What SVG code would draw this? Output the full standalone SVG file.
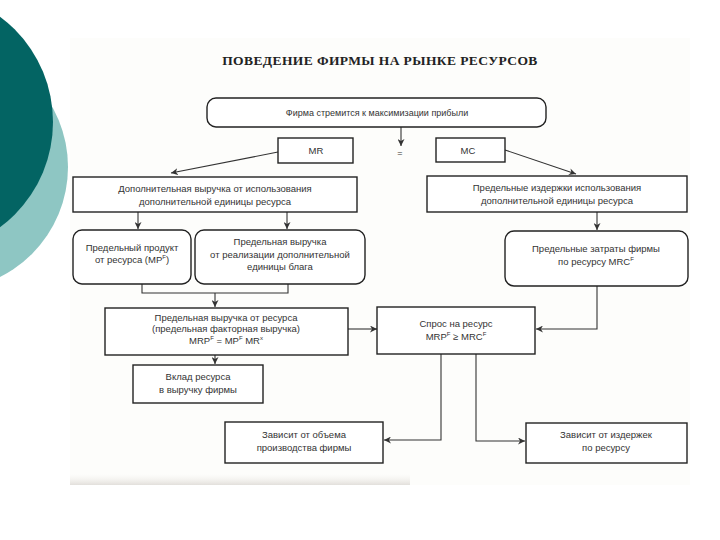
<svg xmlns="http://www.w3.org/2000/svg" width="720" height="540" viewBox="0 0 720 540">
<defs>
<style>
.bx{fill:#fff;stroke:#222;stroke-width:1.4}
.t{font-family:"Liberation Sans",Arial,sans-serif;font-size:9.5px;fill:#333;text-anchor:middle}
.ln{fill:none;stroke:#333;stroke-width:1.1}
.ttl{font-family:"Liberation Serif","Times New Roman",serif;font-size:13.5px;font-weight:bold;fill:#222;text-anchor:middle;letter-spacing:0.4px}
</style>
<marker id="ar" viewBox="0 0 10 10" refX="10" refY="5" markerWidth="7" markerHeight="7" markerUnits="userSpaceOnUse" orient="auto">
<path d="M0,0 L10,5 L0,10 L3,5 Z" fill="#333"/>
</marker>
<linearGradient id="shade" x1="0" y1="0" x2="0" y2="1">
<stop offset="0" stop-color="#f4f2ee" stop-opacity="0"/>
<stop offset="1" stop-color="#e2dfdb"/>
</linearGradient>
</defs>
<rect width="720" height="540" fill="#fff"/>
<g id="decor">
<circle cx="-55" cy="167" r="123" fill="#8ec6c3"/>
<circle cx="-78" cy="122" r="131" fill="#036463"/>
<rect x="70" y="38" width="620" height="447" fill="#fdfdfb"/>
<rect x="70" y="474" width="340" height="11" fill="url(#shade)"/>
</g>
<text class="ttl" x="380" y="65">ПОВЕДЕНИЕ ФИРМЫ НА РЫНКЕ РЕСУРСОВ</text>
<g id="connectors">
<path class="ln" d="M401,127 V146" marker-end="url(#ar)"/>
<path class="ln" d="M278,152 L171,173" marker-end="url(#ar)"/>
<path class="ln" d="M505,150 L576,174" marker-end="url(#ar)"/>
<path class="ln" d="M138,212 V229" marker-end="url(#ar)"/>
<path class="ln" d="M287,212 V229" marker-end="url(#ar)"/>
<path class="ln" d="M597,212 V230" marker-end="url(#ar)"/>
<path class="ln" d="M142,284 V293 H288 V284"/>
<path class="ln" d="M215,293 V307" marker-end="url(#ar)"/>
<path class="ln" d="M215,355 V364" marker-end="url(#ar)"/>
<path class="ln" d="M348,329 H377" marker-end="url(#ar)"/>
<path class="ln" d="M597,286 V329 H536" marker-end="url(#ar)"/>
<path class="ln" d="M441,354 V440 H384" marker-end="url(#ar)"/>
<path class="ln" d="M476,354 V441 H525" marker-end="url(#ar)"/>
</g>
<text class="t" x="400" y="156" style="font-size:9px">=</text>
<g id="n-goal">
<rect class="bx" x="207" y="98" width="339" height="29" rx="9"/>
<text class="t" x="377" y="116" style="font-size:9px">Фирма стремится к максимизации прибыли</text>
</g>
<g id="n-mr">
<rect class="bx" x="278" y="138" width="75" height="25"/>
<text class="t" x="316" y="154">MR</text>
</g>
<g id="n-mc">
<rect class="bx" x="436" y="138" width="69" height="24"/>
<text class="t" x="468" y="154">MC</text>
</g>
<g id="n-addrev">
<rect class="bx" x="73" y="177" width="284" height="35"/>
<text class="t" x="215" y="192">Дополнительная выручка от использования</text>
<text class="t" x="215" y="205">дополнительной единицы ресурса</text>
</g>
<g id="n-margcost">
<rect class="bx" x="427" y="176" width="260" height="36"/>
<text class="t" x="557" y="191">Предельные издержки использования</text>
<text class="t" x="557" y="204">дополнительной единицы ресурса</text>
</g>
<g id="n-mp">
<rect class="bx" x="73" y="230" width="118" height="54" rx="9"/>
<text class="t" x="132" y="251">Предельный продукт</text>
<text class="t" x="132" y="263">от ресурса (MP<tspan font-size="6" dy="-4">F</tspan><tspan dy="4">)</tspan></text>
</g>
<g id="n-mrgood">
<rect class="bx" x="195" y="230" width="170" height="54" rx="9"/>
<text class="t" x="280" y="245">Предельная выручка</text>
<text class="t" x="280" y="258">от реализации дополнительной</text>
<text class="t" x="280" y="270">единицы блага</text>
</g>
<g id="n-mrc">
<rect class="bx" x="505" y="231" width="183" height="55" rx="9"/>
<text class="t" x="596" y="252">Предельные затраты фирмы</text>
<text class="t" x="596" y="265">по ресурсу MRC<tspan font-size="6" dy="-4">F</tspan></text>
</g>
<g id="n-mrp">
<rect class="bx" x="105" y="308" width="243" height="47"/>
<text class="t" x="226" y="321">Предельная выручка от ресурса</text>
<text class="t" x="226" y="332">(предельная факторная выручка)</text>
<text class="t" x="226" y="344">MRP<tspan font-size="6" dy="-4">F</tspan><tspan dy="4"> = MP</tspan><tspan font-size="6" dy="-4">F</tspan><tspan dy="4"> MR</tspan><tspan font-size="6" dy="-4">x</tspan></text>
</g>
<g id="n-contrib">
<rect class="bx" x="133" y="365" width="130" height="38"/>
<text class="t" x="198" y="380">Вклад ресурса</text>
<text class="t" x="198" y="393">в выручку фирмы</text>
</g>
<g id="n-demand">
<rect class="bx" x="377" y="307" width="158" height="47"/>
<text class="t" x="456" y="327">Спрос на ресурс</text>
<text class="t" x="456" y="340">MRP<tspan font-size="6" dy="-4">F</tspan><tspan dy="4"> ≥ MRC</tspan><tspan font-size="6" dy="-4">F</tspan></text>
</g>
<g id="n-volume">
<rect class="bx" x="225" y="422" width="158" height="41"/>
<text class="t" x="304" y="438">Зависит от объема</text>
<text class="t" x="304" y="451">производства фирмы</text>
</g>
<g id="n-costs">
<rect class="bx" x="526" y="423" width="161" height="40"/>
<text class="t" x="606" y="438">Зависит от издержек</text>
<text class="t" x="606" y="451">по ресурсу</text>
</g>
</svg>
